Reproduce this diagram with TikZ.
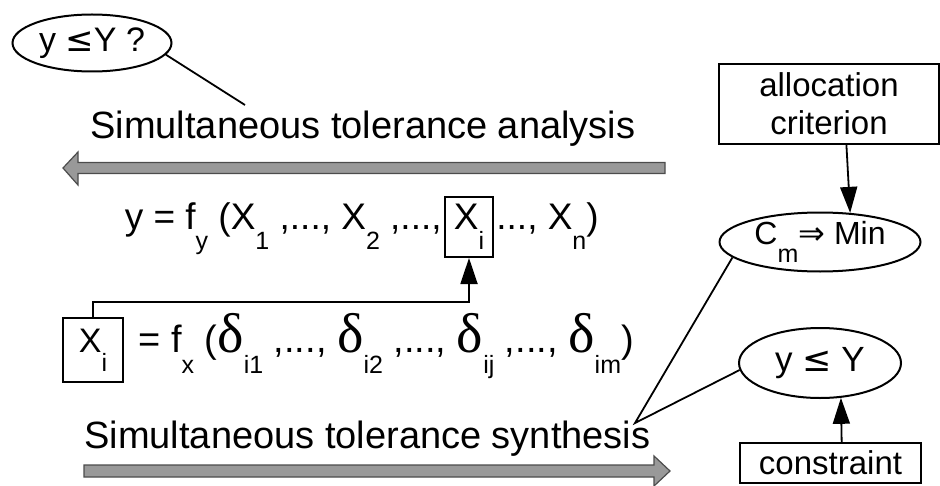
\documentclass[tikz,border=0pt]{standalone}
\usepackage{fontspec}
\setmainfont{Liberation Sans}
\newfontfamily\symfont{DejaVu Sans}
\newfontfamily\grkfont{Liberation Serif}
\usetikzlibrary{arrows.meta,positioning,shapes.geometric}

\newcommand{\sbs}[1]{\raisebox{-0.55em}{\fontsize{12.5}{12.5}\selectfont #1}}
\newcommand{\dl}{{\grkfont\fontsize{28}{28}\selectfont δ}}

\begin{document}
\begin{tikzpicture}[
    x=0.5pt, y=-0.5pt,
    lbl/.style={font=\fontsize{19}{22}\selectfont, inner sep=0pt},
    eqn/.style={font=\fontsize{18.5}{21}\selectfont, inner sep=0pt},
    box/.style={rectangle, draw, line width=1pt, align=center, inner sep=0pt},
    oval/.style={ellipse, draw, line width=1pt, inner sep=0pt},
    line/.style={line width=0.9pt},
    arrow/.style={-{Triangle[length=13pt,width=8.5pt]}, line width=0.9pt},
    bigarrow/.style={fill=black!40, draw=black!70, line width=0.6pt}
  ]
    \useasboundingbox (0,0) rectangle (940,486);

    % analysis side
    \node[oval, minimum width=79.5pt, minimum height=28.5pt, font=\fontsize{17}{20}\selectfont] (quest) at (92,43) {y {\symfont ≤}Y ?};
    \node[lbl, anchor=base west] (ana) at (90,139) {Simultaneous tolerance analysis};
    \coordinate (anaTip) at (245,105);
    \draw[line] (quest.-9) -- (anaTip);
    \draw[bigarrow] (665,162.5) -- (78,162.5) -- (78,152) -- (63,168) -- (78,185) -- (78,173.5) -- (665,173.5) -- cycle;

    % equations
    \node[box, eqn, minimum width=24pt, minimum height=30pt] (xiTop) at (469,227) {X\sbs{i}};
    \node[eqn, anchor=base east] (eqL) at ([xshift=-1pt]xiTop.base west) {y = f\sbs{y} (X\sbs{1} ,..., X\sbs{2} ,...,};
    \node[eqn, anchor=base west] (eqR) at ([xshift=1pt]xiTop.base east) {..., X\sbs{n})};
    \node[box, eqn, font=\fontsize{17}{19}\selectfont, minimum width=30pt, minimum height=32pt] (xiLow) at (93,350) {X\sbs{i}};
    \node[eqn, font=\fontsize{19}{21}\selectfont, anchor=base west] (eqX) at ([xshift=7pt]xiLow.base east) {= f\sbs{x} (\dl\sbs{i1} ,..., \dl\sbs{i2} ,..., \dl\sbs{ij} ,..., \dl\sbs{im})};
    \draw[arrow] (xiLow.north) -- ++(0,-15) -| (xiTop.south);

    % synthesis side
    \node[lbl, anchor=base west] (syn) at (84,448) {Simultaneous tolerance synthesis};
    \coordinate (synTip) at (635,423);
    \draw[bigarrow] (84,465) -- (654,465) -- (654,456) -- (670,471) -- (654,486) -- (654,477) -- (84,477) -- cycle;

    % right column
    \node[box, minimum width=110pt, minimum height=40pt, font=\fontsize{16.5}{19}\selectfont] (alloc) at (829,104) {allocation\\criterion};
    \node[oval, minimum width=100.5pt, minimum height=29.5pt, font=\fontsize{16}{18}\selectfont] (cmin) at (820,242) {C\sbs{m}{\symfont ⇒} Min};
    \node[oval, minimum width=81pt, minimum height=35pt, font=\fontsize{17.5}{20}\selectfont] (yle) at (820,363) {y {\symfont ≤} Y};
    \node[box, minimum width=90.5pt, minimum height=20pt, font=\fontsize{16.5}{19}\selectfont] (cons) at (830.5,463) {constraint};

    \draw[arrow] (alloc.-67) -- (cmin.44);
    \draw[arrow] (cons.62) -- (yle.-59);
    \draw[line] (cmin.190) -- (synTip) -- (yle.185);
  \end{tikzpicture}
\end{document}
